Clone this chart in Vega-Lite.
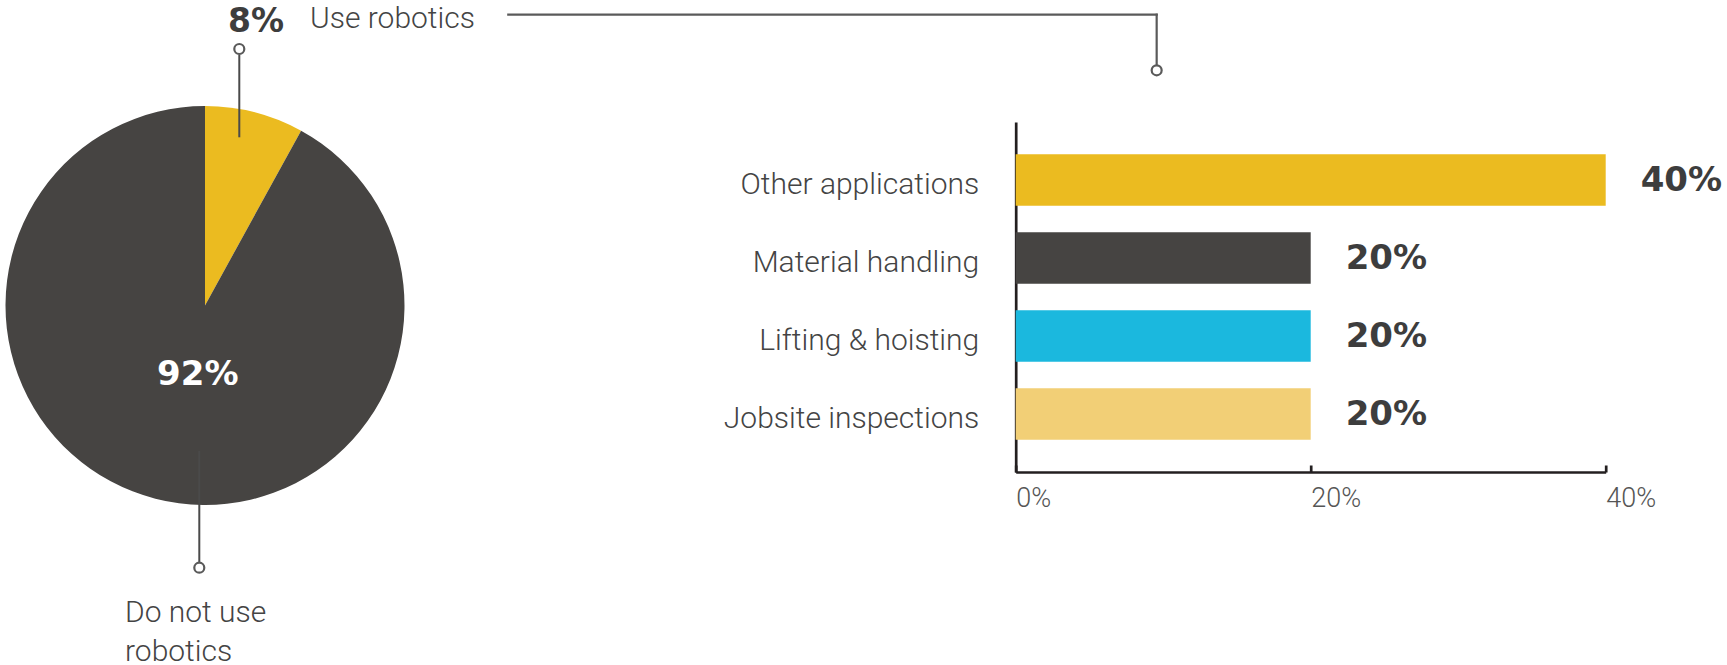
{
  "$schema": "https://vega.github.io/schema/vega-lite/v6.json",
  "padding": 0,
  "background": "#ffffff",
  "bounds": "flush",
  "spacing": 605.7,
  "resolve": {"scale": {"color": "independent", "x": "independent", "y": "independent"}},
  "datasets": {
    "pie": [
      {"group": "Use robotics", "share": 0.08},
      {"group": "Do not use robotics", "share": 0.92}
    ],
    "bars": [
      {"category": "Other applications", "share": 0.4},
      {"category": "Material handling", "share": 0.2},
      {"category": "Lifting & hoisting", "share": 0.2},
      {"category": "Jobsite inspections", "share": 0.2}
    ],
    "one": [{}]
  },
  "hconcat": [
    {
      "width": 410,
      "height": 665,
      "encoding": {
        "x": {"type": "quantitative", "scale": {"domain": [-1.0276, 1.0276], "nice": false, "zero": false}, "axis": null},
        "y": {"type": "quantitative", "scale": {"domain": [-1.5313, 1.802], "nice": false, "zero": false, "reverse": true}, "axis": null}
      },
      "layer": [
        {
          "data": {"name": "pie"},
          "mark": {"type": "arc", "outerRadius": 199.5},
          "encoding": {
            "theta": {"field": "share", "type": "quantitative", "stack": true},
            "order": {"field": "share", "type": "quantitative", "sort": "ascending"},
            "color": {"field": "group", "type": "nominal", "scale": {"domain": ["Use robotics", "Do not use robotics"], "range": ["#EBBB20", "#464442"]}, "legend": null},
            "x": {"datum": 0, "type": "quantitative"},
            "y": {"datum": 0, "type": "quantitative"}
          }
        },
        {
          "data": {"name": "one"},
          "mark": {"type": "rule", "stroke": "#4a4a4a", "strokeWidth": 2},
          "encoding": {"x": {"datum": 0.1719}, "y": {"datum": -1.2581}, "y2": {"datum": -0.8431}}
        },
        {
          "data": {"name": "one"},
          "mark": {"type": "rule", "stroke": "#4a4a4a", "strokeWidth": 2},
          "encoding": {"x": {"datum": -0.0286}, "y": {"datum": 0.7293}, "y2": {"datum": 1.2857}}
        },
        {
          "data": {"name": "one"},
          "mark": {"type": "rule", "stroke": "#5a5a5a", "strokeWidth": 2.2, "strokeCap": "square"},
          "encoding": {"x": {"datum": 1.5203}, "x2": {"datum": 4.7704}, "y": {"datum": -1.4576}}
        },
        {
          "data": {"name": "one"},
          "mark": {"type": "rule", "stroke": "#5a5a5a", "strokeWidth": 2.2, "strokeCap": "square"},
          "encoding": {"x": {"datum": 4.7704}, "y": {"datum": -1.4576}, "y2": {"datum": -1.2065}}
        },
        {
          "data": {"name": "one"},
          "mark": {"type": "point", "shape": "circle", "size": 100, "filled": false, "fill": "#ffffff", "fillOpacity": 1, "stroke": "#5a5a5a", "strokeWidth": 2.2, "opacity": 1},
          "encoding": {"x": {"datum": 0.1719}, "y": {"datum": -1.2857}}
        },
        {
          "data": {"name": "one"},
          "mark": {"type": "point", "shape": "circle", "size": 100, "filled": false, "fill": "#ffffff", "fillOpacity": 1, "stroke": "#5a5a5a", "strokeWidth": 2.2, "opacity": 1},
          "encoding": {"x": {"datum": -0.0286}, "y": {"datum": 1.3143}}
        },
        {
          "data": {"name": "one"},
          "mark": {"type": "point", "shape": "circle", "size": 100, "filled": false, "fill": "#ffffff", "fillOpacity": 1, "stroke": "#5a5a5a", "strokeWidth": 2.2, "opacity": 1},
          "encoding": {"x": {"datum": 4.7704}, "y": {"datum": -1.1789}}
        },
        {
          "data": {"name": "pie"},
          "transform": [{"filter": "datum.group === 'Use robotics'"}],
          "mark": {"type": "text", "align": "left", "baseline": "alphabetic", "font": "DejaVu Sans", "fontWeight": "bold", "fontSize": 33, "fill": "#3d3d3d"},
          "encoding": {"x": {"datum": 0.1153}, "y": {"datum": -1.3734}, "text": {"field": "share", "type": "quantitative", "format": ".0%"}}
        },
        {
          "data": {"name": "pie"},
          "transform": [{"filter": "datum.group === 'Use robotics'"}],
          "mark": {"type": "text", "align": "left", "baseline": "alphabetic", "font": "Roboto", "fontWeight": 300, "fontSize": 30, "fill": "#444444"},
          "encoding": {"x": {"datum": 0.5263}, "y": {"datum": -1.3925}, "text": {"field": "group"}}
        },
        {
          "data": {"name": "pie"},
          "transform": [{"filter": "datum.group === 'Do not use robotics'"}],
          "mark": {"type": "text", "align": "center", "baseline": "alphabetic", "font": "DejaVu Sans", "fontWeight": "bold", "fontSize": 34, "fill": "#ffffff"},
          "encoding": {"x": {"datum": -0.0361}, "y": {"datum": 0.3985}, "text": {"field": "share", "type": "quantitative", "format": ".0%"}}
        },
        {
          "data": {"name": "pie"},
          "transform": [{"filter": "datum.group === 'Do not use robotics'"}],
          "mark": {"type": "text", "align": "left", "baseline": "alphabetic", "font": "Roboto", "fontWeight": 300, "fontSize": 30, "fill": "#444444", "lineHeight": 38.7, "lineBreak": {"expr": "regexp(' (?=robotics)')"}},
          "encoding": {"x": {"datum": -0.401}, "y": {"datum": 1.588}, "text": {"field": "group"}}
        }
      ]
    },
    {
      "width": 590,
      "height": 472,
      "data": {"name": "bars"},
      "encoding": {
        "y": {
          "field": "category", "type": "nominal", "sort": null,
          "scale": {"range": [122, 472], "paddingInner": 0.34, "paddingOuter": 0.415},
          "axis": {"title": null, "ticks": false, "domain": true, "domainColor": "#231f20", "domainWidth": 2.7, "labelPadding": 37, "labelOffset": 5, "labelFont": "Roboto", "labelFontWeight": 300, "labelFontSize": 30, "labelColor": "#444444", "labelLimit": 0, "grid": false}
        },
        "x": {
          "field": "share", "type": "quantitative",
          "scale": {"domain": [0, 0.4], "nice": false},
          "axis": {"title": null, "values": [0, 0.2, 0.4], "format": ".0%", "grid": false, "domainColor": "#231f20", "domainWidth": 2.7, "tickColor": "#231f20", "tickWidth": 2.7, "tickSize": -7, "labelAlign": "left", "labelBaseline": "alphabetic", "labelPadding": 41, "labelFlush": false, "labelFont": "Roboto", "labelFontWeight": 300, "labelFontSize": 27, "labelColor": "#555555"}
        }
      },
      "layer": [
        {
          "mark": {"type": "bar"},
          "encoding": {
            "color": {"field": "category", "type": "nominal", "scale": {"domain": ["Other applications", "Material handling", "Lifting & hoisting", "Jobsite inspections"], "range": ["#EBBB20", "#464442", "#1BB8DE", "#F2CF76"]}, "legend": null}
          }
        },
        {
          "mark": {"type": "text", "align": "left", "baseline": "middle", "dx": 35, "dy": 1, "font": "DejaVu Sans", "fontWeight": "bold", "fontSize": 34, "fill": "#3d3d3d"},
          "encoding": {"text": {"field": "share", "type": "quantitative", "format": ".0%"}}
        }
      ]
    }
  ],
  "config": {"view": {"stroke": null}}
}
